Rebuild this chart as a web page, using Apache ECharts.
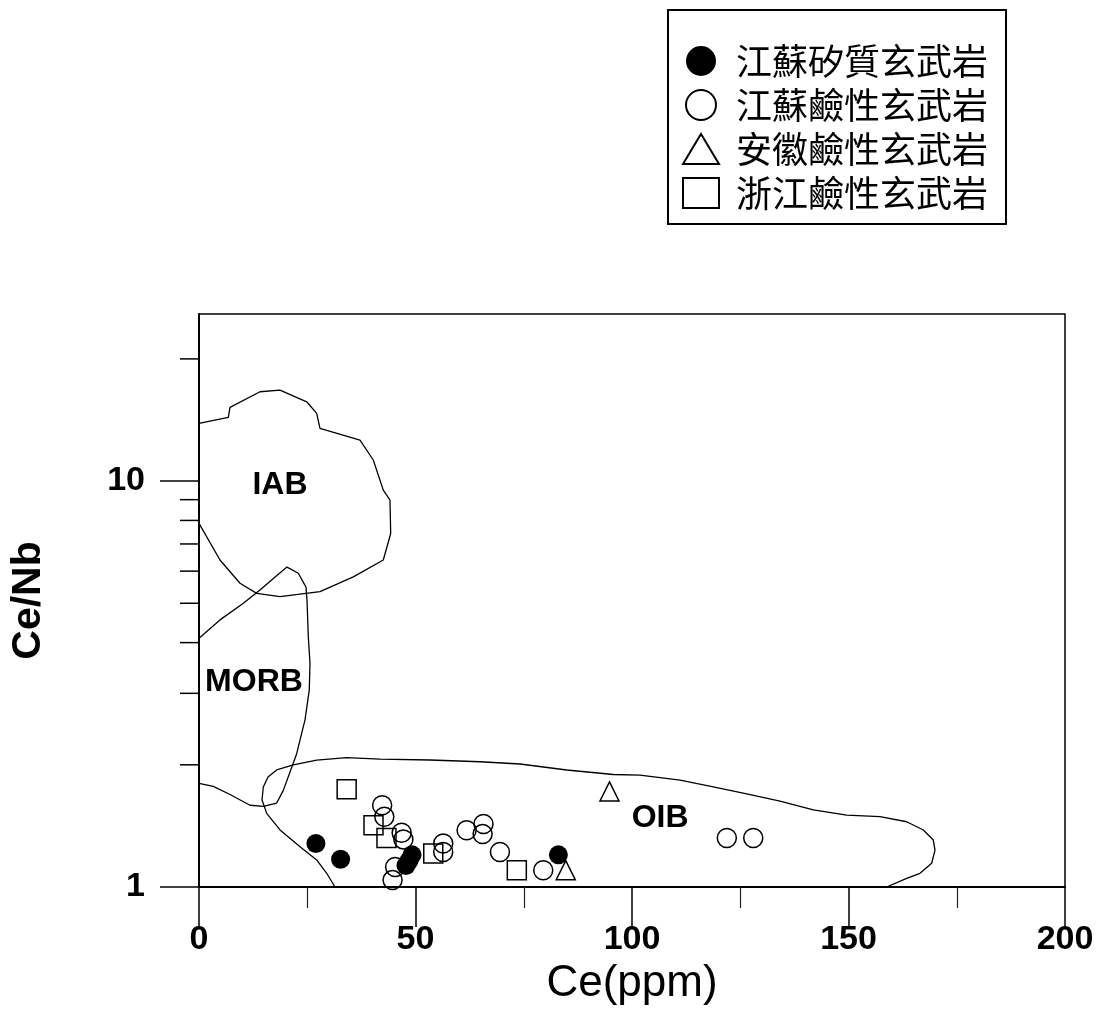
<!DOCTYPE html>
<html>
<head>
<meta charset="utf-8">
<script src="https://cdn.jsdelivr.net/npm/echarts@6/dist/echarts.min.js"></script>
<style>
  html, body { margin: 0; padding: 0; background: #fff; }
  #chart { width: 1103px; height: 1035px; }
</style>
</head>
<body>
<div id="chart"></div>
<script>
// Sample groups: [Ce (ppm), Ce/Nb]
const seriesNames = ['江蘇矽質玄武岩', '江蘇鹼性玄武岩', '安徽鹼性玄武岩', '浙江鹼性玄武岩'];
const jiangsuSiliceous = [[27.0, 1.28], [32.7, 1.17], [47.8, 1.13], [48.5, 1.16], [49.2, 1.20], [83.0, 1.20]];
const jiangsuAlkaline = [[42.3, 1.59], [42.8, 1.49], [46.8, 1.36], [47.2, 1.31], [45.3, 1.12], [44.7, 1.04],
  [56.4, 1.28], [56.4, 1.22], [61.8, 1.38], [65.7, 1.43], [65.5, 1.35], [69.5, 1.22], [79.5, 1.10],
  [121.9, 1.32], [128.0, 1.32]];
const anhuiAlkaline = [[94.8, 1.72], [84.7, 1.10]];
const zhejiangAlkaline = [[34.1, 1.74], [40.3, 1.42], [43.3, 1.32], [54.1, 1.21], [73.4, 1.10]];

// Tectonic-setting field boundaries: [Ce (ppm), Ce/Nb]
const iabOutline = [[0, 13.87], [6.77, 14.36], [7.16, 15.19], [14.09, 16.60], [18.71, 16.75], [24.87, 15.68],
  [27.18, 14.68], [27.94, 13.49], [37.18, 12.62], [40.25, 11.27], [42.56, 9.50], [44.11, 8.98],
  [44.27, 7.43], [42.56, 6.39], [35.64, 5.81], [27.94, 5.34], [18.71, 5.19], [13.33, 5.29],
  [9.47, 5.60], [4.85, 6.39], [0, 7.87]];
const morbOutline = [[0, 4.10], [4.85, 4.55], [10.24, 5.00], [14.09, 5.39], [17.78, 5.83], [20.32, 6.14],
  [22.94, 5.93], [24.71, 5.48], [24.94, 5.09], [25.24, 4.14], [25.63, 3.56], [25.47, 3.06],
  [24.48, 2.58], [22.56, 2.13], [21.02, 1.92], [19.47, 1.73], [17.94, 1.61], [14.86, 1.58],
  [11.78, 1.59], [7.16, 1.69], [3.30, 1.77], [0, 1.80]];
const oibOutline = [[31.41, 1.00], [29.49, 1.081], [27.18, 1.166], [23.33, 1.257], [18.71, 1.382],
  [15.63, 1.519], [14.55, 1.638], [14.85, 1.764], [15.94, 1.866], [17.94, 1.942], [21.78, 1.998],
  [27.18, 2.055], [34.11, 2.084], [41.80, 2.066], [53.35, 2.055], [64.90, 2.035], [74.13, 2.009],
  [84.92, 1.942], [95.68, 1.893], [101.85, 1.887], [111.09, 1.834], [118.78, 1.764], [126.49, 1.695],
  [134.18, 1.628], [141.87, 1.548], [149.58, 1.504], [157.27, 1.490], [163.44, 1.448], [167.28, 1.382],
  [169.58, 1.305], [169.98, 1.233], [169.21, 1.144], [166.51, 1.081], [163.44, 1.050], [158.82, 1.00]];
const fieldLabels = [[18.7, 9.78, 'IAB'], [12.7, 3.20, 'MORB'], [106.5, 1.48, 'OIB']];

// Axis ticks
const xMajorTicks = [0, 50, 100, 150, 200];
const yMajorTicks = [1, 10];
const yMinorTicks = [2, 3, 4, 5, 6, 7, 8, 9, 20];

const chart = echarts.init(document.getElementById('chart'));
const ink = '#000';
const latin = 'Liberation Sans, Arial, sans-serif';

function outlineSeries(name, data) {
  return {
    name: name, type: 'line', data: data, symbol: 'none', silent: true, z: 1,
    lineStyle: { color: ink, width: 1.3, opacity: 1 }
  };
}

function markerSeries(name, data, symbol, filled) {
  return {
    name: name, type: 'scatter', data: data, symbol: symbol, symbolSize: 19, z: 5,
    itemStyle: filled
      ? { color: ink, opacity: 1 }
      : { color: 'rgba(0,0,0,0)', borderColor: ink, borderWidth: 1.5, opacity: 1 }
  };
}

const option = {
  backgroundColor: '#fff',
  animation: false,
  grid: { left: 199, right: 38, top: 314, bottom: 148, show: true, borderColor: ink, borderWidth: 1.5 },
  legend: {
    orient: 'vertical', left: 668, top: 10,
    padding: [33, 18, 13, 14],
    itemWidth: 36, itemHeight: 30, itemGap: 8,
    borderColor: ink, borderWidth: 2, backgroundColor: '#fff',
    textStyle: { fontFamily: 'Noto Sans CJK TC', fontSize: 36, color: ink, lineHeight: 36, padding: [0, 0, 0, 12] },
    data: [
      { name: seriesNames[0], icon: 'circle', itemStyle: { color: ink, borderWidth: 0, opacity: 1 } },
      { name: seriesNames[1], icon: 'circle', itemStyle: { color: 'rgba(0,0,0,0)', borderColor: ink, borderWidth: 2 } },
      { name: seriesNames[2], icon: 'triangle', itemStyle: { color: 'rgba(0,0,0,0)', borderColor: ink, borderWidth: 2 } },
      { name: seriesNames[3], icon: 'rect', itemStyle: { color: 'rgba(0,0,0,0)', borderColor: ink, borderWidth: 2 } }
    ]
  },
  xAxis: {
    type: 'value', min: xMajorTicks[0], max: xMajorTicks[xMajorTicks.length - 1],
    interval: xMajorTicks[1] - xMajorTicks[0],
    name: 'Ce(ppm)', nameLocation: 'middle', nameGap: 74,
    nameTextStyle: { fontFamily: latin, fontSize: 44, color: ink },
    axisLine: { lineStyle: { color: ink, width: 2 } },
    axisTick: { show: true, inside: false, length: 40, lineStyle: { color: ink, width: 1.5 } },
    minorTick: { show: true, splitNumber: 2, length: 21, lineStyle: { color: '#222', width: 1.2 } },
    axisLabel: { margin: 36, fontFamily: latin, fontSize: 34, fontWeight: 'bold', color: ink },
    splitLine: { show: false }
  },
  yAxis: {
    type: 'log', logBase: 10, min: 1, max: 25.8,
    name: 'Ce/Nb', nameLocation: 'middle', nameGap: 150, nameRotate: 90,
    nameTextStyle: { fontFamily: latin, fontSize: 41, fontWeight: 'bold', color: ink },
    axisLine: { lineStyle: { color: ink, width: 2 } },
    axisTick: { show: false },
    axisLabel: {
      margin: 54, fontFamily: latin, fontSize: 34, fontWeight: 'bold', color: ink, showMaxLabel: false,
      formatter: function (v) {
        for (const t of yMajorTicks) { if (Math.abs(v - t) < 1e-6 * t) return String(t); }
        return '';
      }
    },
    splitLine: { show: false }
  },
  series: [
    outlineSeries('IAB field', iabOutline),
    outlineSeries('MORB field', morbOutline),
    outlineSeries('OIB field', oibOutline),
    {
      name: 'field labels', type: 'scatter', symbol: 'circle', symbolSize: 0, silent: true, z: 3,
      itemStyle: { opacity: 1 },
      data: fieldLabels.map(d => ({ value: [d[0], d[1]], name: d[2] })),
      label: {
        show: true, position: 'inside', formatter: '{b}',
        fontFamily: latin, fontWeight: 'bold', fontSize: 32, color: ink, opacity: 1
      }
    },
    {
      name: 'y ticks', type: 'custom', silent: true, clip: false, z: 2,
      data: yMajorTicks.concat(yMinorTicks).map(v => [0, v]),
      renderItem: function (params, api) {
        const v = api.value(1);
        const p = api.coord([0, v]);
        const len = yMajorTicks.indexOf(v) >= 0 ? 39 : 19;
        return {
          type: 'line',
          shape: { x1: p[0] - len, y1: p[1], x2: p[0], y2: p[1] },
          style: { stroke: ink, lineWidth: 1.5 }
        };
      }
    },
    markerSeries(seriesNames[0], jiangsuSiliceous, 'circle', true),
    markerSeries(seriesNames[1], jiangsuAlkaline, 'circle', false),
    markerSeries(seriesNames[2], anhuiAlkaline, 'triangle', false),
    markerSeries(seriesNames[3], zhejiangAlkaline, 'rect', false)
  ]
};

chart.setOption(option);
</script>
</body>
</html>
